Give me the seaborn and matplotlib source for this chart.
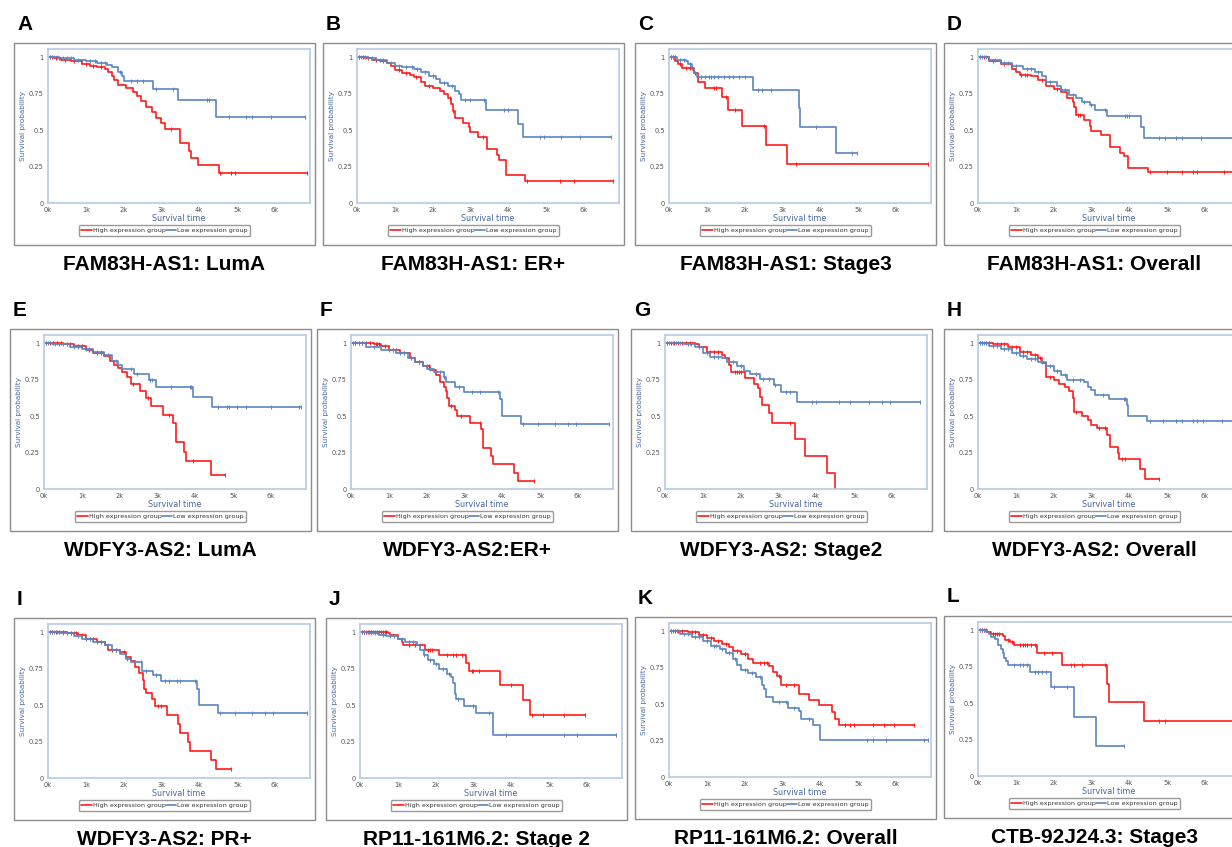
import numpy as np
import matplotlib
matplotlib.use("Agg")
import matplotlib.pyplot as plt
from matplotlib.patches import Rectangle
import seaborn as sns

W, H = 1232, 847
RED = "#ff1a1a"
BLUE = "#5b85c2"

# event times (days), survival after each event, censor times (last one = end of follow-up)
# A: FAM83H-AS1 LumA
a_hi_t = [150, 350, 600, 900, 1100, 1300, 1500, 1600, 1700, 1750, 1850, 2050, 2250, 2350, 2450, 2600, 2750, 2850, 3000, 3100, 3480, 3720, 3790, 3980, 4510]
a_hi_s = [0.99, 0.98, 0.97, 0.955, 0.94, 0.93, 0.92, 0.90, 0.87, 0.84, 0.81, 0.79, 0.76, 0.73, 0.70, 0.66, 0.62, 0.585, 0.55, 0.51, 0.41, 0.355, 0.31, 0.257, 0.205]
a_hi_c = [50, 100, 200, 300, 450, 700, 1000, 1200, 1400, 3250, 4560, 4850, 4950, 6850]
a_lo_t = [300, 700, 1000, 1300, 1550, 1700, 1850, 1950, 2000, 2780, 3450, 4450]
a_lo_s = [0.99, 0.98, 0.97, 0.96, 0.945, 0.93, 0.90, 0.87, 0.835, 0.78, 0.705, 0.586]
a_lo_c = [50, 150, 250, 400, 500, 600, 800, 1100, 1250, 1400, 1500, 1900, 2200, 2350, 2500, 2850, 3300, 4200, 4250, 4800, 5250, 5400, 5900, 6800]

# B: FAM83H-AS1 ER+
b_hi_t = [200, 400, 600, 800, 900, 1000, 1200, 1400, 1500, 1700, 1800, 2000, 2200, 2300, 2400, 2480, 2530, 2600, 2800, 2950, 3000, 3200, 3450, 3700, 3760, 3950, 4440]
b_hi_s = [0.99, 0.98, 0.97, 0.96, 0.94, 0.91, 0.89, 0.875, 0.86, 0.83, 0.80, 0.79, 0.77, 0.75, 0.72, 0.68, 0.63, 0.58, 0.548, 0.52, 0.484, 0.452, 0.372, 0.33, 0.297, 0.19, 0.148]
b_hi_c = [50, 150, 300, 500, 700, 1100, 1300, 1550, 1900, 2450, 2550, 3320, 4500, 5370, 5730, 6780]
b_lo_t = [300, 500, 800, 1000, 1200, 1500, 1700, 1900, 2100, 2200, 2400, 2600, 2700, 2750, 3410, 4250, 4390]
b_lo_s = [0.99, 0.98, 0.96, 0.94, 0.93, 0.92, 0.90, 0.87, 0.85, 0.82, 0.80, 0.77, 0.746, 0.708, 0.635, 0.54, 0.452]
b_lo_c = [50, 100, 200, 400, 600, 700, 900, 1100, 1300, 1450, 1600, 1800, 2000, 2300, 2500, 2850, 3000, 3350, 3900, 4000, 4850, 4950, 5400, 5900, 6720]

# C: FAM83H-AS1 Stage3
c_hi_t = [150, 250, 350, 650, 780, 950, 1400, 1570, 1930, 2560, 3130]
c_hi_s = [0.97, 0.95, 0.925, 0.89, 0.83, 0.79, 0.727, 0.636, 0.53, 0.40, 0.268]
c_hi_c = [50, 100, 300, 450, 550, 600, 700, 1200, 1250, 1500, 1750, 2500, 3350, 6850]
c_lo_t = [200, 450, 500, 600, 650, 750, 2220, 3430, 3470, 4430]
c_lo_s = [0.98, 0.97, 0.95, 0.92, 0.89, 0.864, 0.777, 0.648, 0.518, 0.345]
c_lo_c = [50, 100, 150, 300, 400, 550, 850, 950, 1050, 1100, 1200, 1300, 1450, 1600, 1700, 1850, 2000, 2350, 2450, 2700, 3900, 4850, 4970]

# D: FAM83H-AS1 Overall
d_hi_t = [300, 600, 900, 1000, 1100, 1400, 1600, 1800, 2000, 2200, 2350, 2500, 2550, 2600, 2800, 2950, 3000, 3250, 3490, 3750, 3850, 3970, 4490]
d_hi_s = [0.97, 0.95, 0.92, 0.90, 0.88, 0.87, 0.84, 0.80, 0.78, 0.76, 0.72, 0.69, 0.66, 0.60, 0.57, 0.525, 0.49, 0.468, 0.385, 0.345, 0.325, 0.242, 0.21]
d_hi_c = [50, 150, 400, 700, 1150, 1250, 1300, 1700, 2100, 2650, 2700, 4550, 5000, 5400, 5700, 5800, 6500, 6900]
d_lo_t = [300, 600, 900, 1200, 1500, 1700, 1800, 2100, 2200, 2400, 2600, 2750, 2950, 3100, 3410, 4300, 4400]
d_lo_s = [0.98, 0.96, 0.94, 0.92, 0.90, 0.87, 0.83, 0.80, 0.774, 0.742, 0.72, 0.69, 0.67, 0.64, 0.595, 0.52, 0.446]
d_lo_c = [50, 100, 200, 450, 700, 800, 1000, 1300, 1400, 1600, 1900, 2300, 2500, 2800, 3000, 3350, 3900, 3950, 4000, 4800, 4950, 5250, 5400, 5900, 6900]

# E: WDFY3-AS2 LumA
e_hi_t = [500, 800, 1100, 1300, 1600, 1750, 1850, 1950, 2050, 2200, 2300, 2550, 2700, 2840, 3140, 3420, 3480, 3690, 3750, 4410]
e_hi_s = [0.99, 0.98, 0.95, 0.93, 0.91, 0.88, 0.85, 0.83, 0.80, 0.765, 0.717, 0.674, 0.62, 0.57, 0.51, 0.45, 0.32, 0.253, 0.19, 0.097]
e_hi_c = [50, 150, 250, 350, 450, 600, 700, 900, 1000, 1200, 1400, 1500, 2350, 2750, 3300, 3950, 4800]
e_lo_t = [200, 700, 1000, 1300, 1600, 1800, 1950, 2050, 2380, 2770, 2960, 3950, 4450]
e_lo_s = [0.99, 0.97, 0.96, 0.94, 0.92, 0.88, 0.85, 0.82, 0.787, 0.75, 0.70, 0.633, 0.56]
e_lo_c = [50, 100, 300, 400, 500, 600, 800, 900, 1100, 1200, 1400, 1500, 1700, 1900, 2300, 2450, 2800, 2850, 3350, 3850, 3900, 4600, 4850, 4900, 5100, 5350, 6000, 6750, 6800]

# F: WDFY3-AS2 ER+
f_hi_t = [600, 800, 1000, 1300, 1550, 1700, 1900, 2100, 2250, 2350, 2450, 2500, 2550, 2600, 2750, 2800, 3160, 3450, 3490, 3690, 3750, 4300, 4430]
f_hi_s = [0.99, 0.98, 0.95, 0.93, 0.90, 0.87, 0.84, 0.814, 0.78, 0.735, 0.70, 0.674, 0.62, 0.57, 0.54, 0.50, 0.452, 0.41, 0.28, 0.226, 0.17, 0.113, 0.057]
f_hi_c = [50, 100, 200, 300, 400, 500, 650, 700, 750, 900, 1100, 1200, 1400, 1600, 1800, 2000, 2050, 2650, 2900, 3400, 4850]
f_lo_t = [400, 800, 1200, 1500, 1700, 1900, 2000, 2200, 2450, 2500, 2760, 3000, 3950, 3990, 4500]
f_lo_s = [0.97, 0.95, 0.93, 0.90, 0.87, 0.84, 0.82, 0.80, 0.77, 0.735, 0.70, 0.667, 0.618, 0.502, 0.446]
f_lo_c = [50, 100, 200, 300, 600, 1000, 1100, 1300, 1400, 1600, 1800, 2100, 2350, 2450, 2850, 3200, 3400, 3900, 4550, 4950, 5400, 5750, 5950, 6820]

# G: WDFY3-AS2 Stage2
g_hi_t = [800, 900, 1100, 1500, 1600, 1680, 1750, 2120, 2350, 2450, 2500, 2570, 2750, 2820, 3450, 3690, 4290, 4490]
g_hi_s = [0.99, 0.97, 0.94, 0.92, 0.90, 0.85, 0.80, 0.76, 0.72, 0.69, 0.63, 0.577, 0.52, 0.452, 0.34, 0.226, 0.113, 0.0]
g_hi_c = [50, 150, 250, 350, 450, 550, 650, 1200, 1300, 1400, 1850, 1900, 1950, 2000, 3300]
g_lo_t = [500, 800, 1000, 1200, 1500, 1650, 1900, 2100, 2250, 2520, 2880, 3080, 3500]
g_lo_s = [0.99, 0.97, 0.93, 0.905, 0.90, 0.87, 0.84, 0.81, 0.787, 0.753, 0.713, 0.667, 0.593]
g_lo_c = [50, 100, 200, 300, 400, 600, 700, 900, 1100, 1300, 1400, 1700, 1800, 2000, 2400, 2600, 2750, 2900, 3200, 3300, 3900, 4000, 4600, 4900, 5400, 5750, 5950, 6750]

# H: WDFY3-AS2 Overall
h_hi_t = [400, 800, 1100, 1400, 1600, 1700, 1800, 2000, 2150, 2300, 2400, 2500, 2550, 2750, 2900, 3000, 3140, 3400, 3490, 3700, 3740, 4290, 4420]
h_hi_s = [0.99, 0.97, 0.94, 0.92, 0.90, 0.86, 0.77, 0.75, 0.72, 0.70, 0.67, 0.62, 0.525, 0.50, 0.47, 0.44, 0.418, 0.37, 0.29, 0.25, 0.208, 0.136, 0.068]
h_hi_c = [50, 100, 200, 300, 500, 600, 700, 900, 1000, 1200, 1300, 1500, 1650, 1900, 2600, 3200, 3350, 3800, 3900, 4800]
h_lo_t = [300, 600, 900, 1100, 1300, 1600, 1800, 2000, 2200, 2350, 2800, 2900, 3000, 3100, 3460, 3950, 3970, 4460]
h_lo_s = [0.98, 0.96, 0.93, 0.91, 0.89, 0.87, 0.84, 0.81, 0.78, 0.75, 0.73, 0.70, 0.68, 0.645, 0.617, 0.575, 0.502, 0.464]
h_lo_c = [50, 100, 150, 200, 400, 500, 700, 800, 1000, 1200, 1400, 1500, 1700, 1900, 2100, 2300, 2500, 2700, 3300, 3850, 3900, 4550, 4900, 5250, 5400, 5700, 5800, 5950, 6450, 6900]

# I: WDFY3-AS2 PR+
i_hi_t = [500, 800, 1000, 1300, 1500, 1600, 1900, 2050, 2200, 2300, 2400, 2500, 2550, 2600, 2750, 2820, 3150, 3450, 3490, 3700, 3760, 4320, 4450]
i_hi_s = [0.99, 0.98, 0.95, 0.93, 0.91, 0.88, 0.86, 0.83, 0.80, 0.76, 0.72, 0.67, 0.61, 0.585, 0.54, 0.494, 0.433, 0.37, 0.31, 0.245, 0.188, 0.125, 0.064]
i_hi_c = [50, 100, 200, 300, 400, 600, 700, 750, 900, 1100, 1200, 1400, 1700, 1800, 2000, 2900, 3000, 4830]
i_lo_t = [300, 700, 900, 1200, 1500, 1700, 1900, 2050, 2200, 2490, 2780, 3000, 3950, 3990, 4500]
i_lo_s = [0.99, 0.97, 0.95, 0.93, 0.91, 0.88, 0.85, 0.816, 0.796, 0.732, 0.703, 0.664, 0.61, 0.50, 0.445]
i_lo_c = [50, 100, 150, 250, 400, 500, 600, 800, 1000, 1100, 1300, 1400, 1600, 1800, 2100, 2300, 2450, 2600, 2850, 3100, 3200, 3400, 3500, 3900, 4550, 4950, 5400, 5750, 5950, 6850]

# J: RP11-161M6.2 Stage 2
j_hi_t = [750, 800, 1000, 1100, 1150, 1720, 2100, 2800, 2870, 3690, 4300, 4500]
j_hi_s = [0.99, 0.98, 0.95, 0.93, 0.914, 0.875, 0.84, 0.79, 0.73, 0.64, 0.535, 0.43]
j_hi_c = [50, 100, 150, 200, 250, 300, 350, 400, 450, 500, 550, 600, 650, 700, 1300, 1450, 1600, 1800, 1850, 1900, 2300, 2450, 2550, 2700, 2950, 3000, 3150, 4000, 4550, 4850, 5400, 5950]
j_lo_t = [200, 500, 700, 1000, 1200, 1500, 1600, 1700, 1800, 1950, 2100, 2300, 2400, 2450, 2500, 2550, 2740, 3080, 3520]
j_lo_s = [0.99, 0.98, 0.97, 0.95, 0.93, 0.91, 0.88, 0.84, 0.81, 0.778, 0.75, 0.714, 0.69, 0.649, 0.574, 0.54, 0.494, 0.442, 0.297]
j_lo_c = [50, 100, 300, 400, 600, 800, 900, 1100, 1300, 1400, 1700, 1850, 2000, 2200, 2350, 2600, 3000, 3400, 3850, 5400, 5750, 6770]

# K: RP11-161M6.2 Overall
k_hi_t = [500, 800, 1000, 1200, 1400, 1600, 1700, 1900, 2100, 2220, 2650, 2750, 2850, 2970, 3450, 3690, 3980, 4300, 4400, 4490]
k_hi_s = [0.99, 0.97, 0.95, 0.93, 0.91, 0.89, 0.86, 0.84, 0.81, 0.78, 0.76, 0.72, 0.69, 0.632, 0.57, 0.53, 0.49, 0.447, 0.40, 0.357]
k_hi_c = [50, 150, 250, 350, 600, 700, 900, 1100, 1300, 1500, 1800, 2000, 2400, 2500, 2600, 2900, 3100, 3300, 4650, 4800, 4900, 5400, 5700, 5950, 6480]
k_lo_t = [300, 600, 900, 1100, 1350, 1500, 1700, 1800, 1900, 2100, 2300, 2450, 2500, 2570, 2750, 3150, 3450, 3500, 3800, 3990]
k_lo_s = [0.98, 0.96, 0.93, 0.90, 0.88, 0.85, 0.81, 0.77, 0.73, 0.71, 0.688, 0.632, 0.60, 0.546, 0.515, 0.474, 0.455, 0.395, 0.357, 0.255]
k_lo_c = [50, 100, 200, 400, 500, 700, 800, 1000, 1200, 1250, 1400, 1600, 1750, 2000, 2200, 2400, 2900, 3100, 3300, 3700, 5250, 5400, 5750, 6750, 6860]

# L: CTB-92J24.3 Stage3
l_hi_t = [250, 350, 650, 720, 850, 950, 1560, 2220, 3410, 3470, 4400]
l_hi_s = [0.985, 0.97, 0.96, 0.93, 0.915, 0.90, 0.84, 0.76, 0.63, 0.507, 0.38]
l_hi_c = [50, 100, 150, 200, 400, 450, 500, 550, 800, 900, 1100, 1200, 1250, 1300, 1400, 1500, 1750, 1950, 2450, 2550, 2750, 3350, 4800, 4950, 6900]
l_lo_t = [200, 280, 350, 450, 520, 600, 650, 680, 750, 800, 1380, 1920, 2530, 3120]
l_lo_s = [0.985, 0.97, 0.955, 0.936, 0.90, 0.87, 0.84, 0.81, 0.79, 0.76, 0.71, 0.61, 0.405, 0.205]
l_lo_c = [50, 100, 150, 950, 1100, 1200, 1300, 1500, 1600, 1700, 1800, 2000, 2350, 3870]

letters = list("ABCDEFGHIJKL")
titles = ["FAM83H-AS1: LumA", "FAM83H-AS1: ER+", "FAM83H-AS1: Stage3", "FAM83H-AS1: Overall",
          "WDFY3-AS2: LumA", "WDFY3-AS2:ER+", "WDFY3-AS2: Stage2", "WDFY3-AS2: Overall",
          "WDFY3-AS2: PR+", "RP11-161M6.2: Stage 2", "RP11-161M6.2: Overall", "CTB-92J24.3: Stage3"]
series = [
    (a_hi_t, a_hi_s, a_hi_c, a_lo_t, a_lo_s, a_lo_c),
    (b_hi_t, b_hi_s, b_hi_c, b_lo_t, b_lo_s, b_lo_c),
    (c_hi_t, c_hi_s, c_hi_c, c_lo_t, c_lo_s, c_lo_c),
    (d_hi_t, d_hi_s, d_hi_c, d_lo_t, d_lo_s, d_lo_c),
    (e_hi_t, e_hi_s, e_hi_c, e_lo_t, e_lo_s, e_lo_c),
    (f_hi_t, f_hi_s, f_hi_c, f_lo_t, f_lo_s, f_lo_c),
    (g_hi_t, g_hi_s, g_hi_c, g_lo_t, g_lo_s, g_lo_c),
    (h_hi_t, h_hi_s, h_hi_c, h_lo_t, h_lo_s, h_lo_c),
    (i_hi_t, i_hi_s, i_hi_c, i_lo_t, i_lo_s, i_lo_c),
    (j_hi_t, j_hi_s, j_hi_c, j_lo_t, j_lo_s, j_lo_c),
    (k_hi_t, k_hi_s, k_hi_c, k_lo_t, k_lo_s, k_lo_c),
    (l_hi_t, l_hi_s, l_hi_c, l_lo_t, l_lo_s, l_lo_c),
]

# outer frame top-left corners in pixels
boxes = [(14, 43), (323, 43), (635, 43), (944, 43),
         (10, 329), (317, 329), (631, 329), (944, 329),
         (14, 618), (326, 618), (635, 617), (944, 616)]
BOX_W, BOX_H = 301, 202


def km_xy(t, s, c):
    end = max(t[-1], c[-1])
    return [0] + list(t) + [end], [1.0] + list(s) + [s[-1]]


def surv_at(t, s, times):
    idx = np.searchsorted(np.asarray(t), np.asarray(times), side="right")
    return np.r_[1.0, s][idx]


def draw_curve(ax, t, s, c, color, label):
    x, y = km_xy(t, s, c)
    sns.lineplot(x=x, y=y, ax=ax, drawstyle="steps-post", color=color, lw=1.2,
                 sort=False, estimator=None, label=label)
    ax.plot(c, surv_at(t, s, c), ls="none", marker="|", ms=3.5, mew=0.7, color=color)


def fx(px):
    return px / W


def fy(py):
    return 1 - py / H


sns.set_style("white")
plt.rcParams["font.family"] = ["DejaVu Sans"]
plt.rcParams["text.color"] = "black"

fig = plt.figure(figsize=(W / 100, H / 100), dpi=100)

for letter, title, (bx, by), (ht, hs, hc, lt, ls, lc) in zip(letters, titles, boxes, series):
    fig.add_artist(Rectangle((fx(bx), fy(by + BOX_H)), BOX_W / W, BOX_H / H,
                             transform=fig.transFigure, fill=False, ec="#8c8c8c", lw=1.0))
    fig.text(fx(bx + 3), fy(by - 19), letter, fontsize=15, fontweight="bold",
             family="Liberation Sans", va="center", ha="left", color="black")
    fig.text(fx(bx + BOX_W / 2), fy(by + BOX_H + 19), title, fontsize=15, fontweight="bold",
             family="Liberation Sans", va="center", ha="center", color="black")

    ax = fig.add_axes([fx(bx + 34), fy(by + 160), 262 / W, 154 / H])
    draw_curve(ax, ht, hs, hc, RED, "High expression group")
    draw_curve(ax, lt, ls, lc, BLUE, "Low expression group")

    ax.set_xlim(0, 6930)
    ax.set_ylim(0, 1.055)
    ax.set_xticks([0, 1000, 2000, 3000, 4000, 5000, 6000])
    ax.set_xticklabels(["0k", "1k", "2k", "3k", "4k", "5k", "6k"])
    ax.set_yticks([0, 0.25, 0.5, 0.75, 1])
    ax.set_yticklabels(["0", "0.25", "0.5", "0.75", "1"])
    ax.tick_params(length=2, width=0.6, color="#999999", labelsize=4.8,
                   labelcolor="#555555", pad=1)
    for sp in ax.spines.values():
        sp.set_color("#b8cbe3")
        sp.set_linewidth(1.2)
    ax.set_xlabel("Survival time", fontsize=5.8, color="#4a66a0", labelpad=0.5)
    ax.set_ylabel("Survival probability", fontsize=5.2, color="#4a66a0", labelpad=2)
    ax.legend(loc="center", bbox_to_anchor=(0.445, -0.18), ncol=2, fontsize=4.6,
              handlelength=1.6, handletextpad=0.2, columnspacing=0.0, borderpad=0.4,
              frameon=True, fancybox=True, edgecolor="#9a9a9a", framealpha=1,
              labelcolor="#333333")

fig.savefig("out.png", dpi=100)
